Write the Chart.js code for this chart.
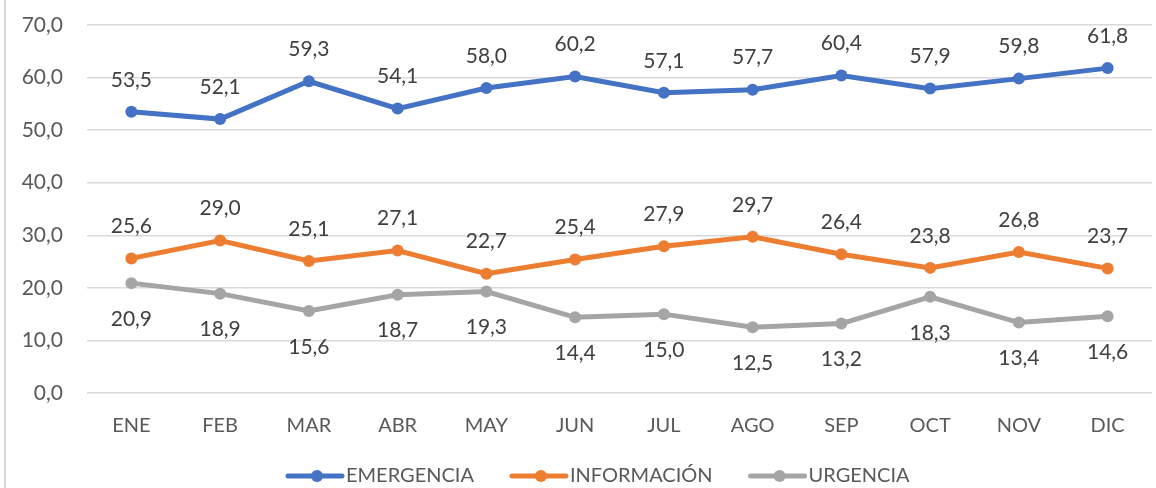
<!DOCTYPE html>
<html>
<head>
<meta charset="utf-8">
<script src="https://cdn.jsdelivr.net/npm/chart.js@4/dist/chart.umd.min.js"></script>
<style>
  html, body { margin: 0; padding: 0; background: #fff; overflow: hidden; }
  #wrap { position: relative; width: 1158px; height: 488px; }
  #edge { position: absolute; left: 4px; top: 0; width: 2px; height: 488px; background: #d9d9d9; }
  canvas { display: block; }
</style>
</head>
<body>
<div id="wrap">
  <div id="edge"></div>
  <canvas id="myChart" width="1158" height="488"></canvas>
</div>
<script>
var months = ["ENE", "FEB", "MAR", "ABR", "MAY", "JUN", "JUL", "AGO", "SEP", "OCT", "NOV", "DIC"];
var emergencia = [53.5, 52.1, 59.3, 54.1, 58.0, 60.2, 57.1, 57.7, 60.4, 57.9, 59.8, 61.8];
var informacion = [25.6, 29.0, 25.1, 27.1, 22.7, 25.4, 27.9, 29.7, 26.4, 23.8, 26.8, 23.7];
var urgencia = [20.9, 18.9, 15.6, 18.7, 19.3, 14.4, 15.0, 12.5, 13.2, 18.3, 13.4, 14.6];

var FONT = "Lato, 'Noto Sans', sans-serif";

function fmt(v) {
  return v.toFixed(1).replace(".", ",");
}

// value labels above / below points
var valueLabels = {
  id: "valueLabels",
  afterDatasetsDraw: function (chart) {
    var ctx = chart.ctx;
    ctx.save();
    ctx.font = "21px " + FONT;
    ctx.fillStyle = "#404040";
    ctx.textAlign = "center";
    ctx.textBaseline = "middle";
    chart.data.datasets.forEach(function (ds, i) {
      var meta = chart.getDatasetMeta(i);
      meta.data.forEach(function (pt, j) {
        var dy = ds.labelBelow ? 36 : -32;
        ctx.fillText(fmt(ds.data[j]), pt.x, pt.y + dy);
      });
    });
    ctx.restore();
  }
};

// excel-like legend: line+dot swatch then the name
var lineLegend = {
  id: "lineLegend",
  afterDraw: function (chart) {
    var ctx = chart.ctx;
    var y = 476;
    var x = 286;
    ctx.save();
    ctx.font = "20px " + FONT;
    ctx.textBaseline = "middle";
    chart.data.datasets.forEach(function (ds) {
      ctx.strokeStyle = ds.borderColor;
      ctx.fillStyle = ds.borderColor;
      ctx.lineWidth = 5;
      ctx.lineCap = "round";
      ctx.beginPath();
      ctx.moveTo(x + 2, y);
      ctx.lineTo(x + 56, y);
      ctx.stroke();
      ctx.beginPath();
      ctx.arc(x + 31, y, 6, 0, Math.PI * 2);
      ctx.fill();
      var tx = x + 60;
      ctx.fillStyle = "#595959";
      ctx.fillText(ds.label, tx, y);
      x = tx + ctx.measureText(ds.label).width + 36;
    });
    ctx.restore();
  }
};

var ctx = document.getElementById("myChart");
var myChart = new Chart(ctx, {
  type: "line",
  data: {
    labels: months,
    datasets: [
      { label: "EMERGENCIA", data: emergencia, borderColor: "#4472C4", backgroundColor: "#4472C4" },
      { label: "INFORMACIÓN", data: informacion, borderColor: "#ED7D31", backgroundColor: "#ED7D31" },
      { label: "URGENCIA", data: urgencia, borderColor: "#A5A5A5", backgroundColor: "#A5A5A5", labelBelow: true }
    ]
  },
  options: {
    responsive: false,
    animation: false,
    layout: { padding: { top: 25, bottom: 37, left: 0, right: 0 } },
    elements: {
      line: { borderWidth: 5, tension: 0 },
      point: { radius: 6, hoverRadius: 6, borderWidth: 0, pointStyle: "circle" }
    },
    scales: {
      x: {
        offset: true,
        grid: { display: false },
        border: { display: false },
        ticks: { color: "#595959", padding: 13, font: { size: 20, family: FONT } }
      },
      y: {
        min: 0,
        max: 70,
        ticks: {
          stepSize: 10,
          color: "#595959",
          padding: 24,
          font: { size: 21, family: FONT },
          callback: function (v) { return fmt(v); }
        },
        grid: { color: "#d9d9d9", lineWidth: 1.5, drawTicks: false },
        border: { display: false },
        afterFit: function (scale) {
          scale.width = 87;
          scale.paddingTop = 0;
          scale.paddingBottom = 0;
        }
      }
    },
    plugins: {
      legend: { display: false },
      tooltip: { enabled: false }
    }
  },
  plugins: [valueLabels, lineLegend]
});
</script>
</body>
</html>
